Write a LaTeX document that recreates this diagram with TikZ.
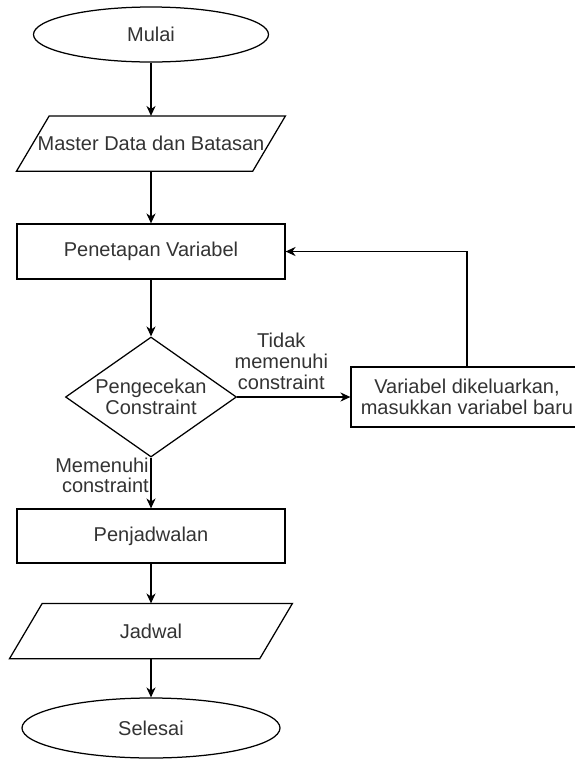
\documentclass[tikz,border=0pt]{standalone}
\usepackage{fontspec}
\setmainfont{Liberation Sans}
\usetikzlibrary{shapes.geometric,arrows.meta,positioning}

\begin{document}
\begin{tikzpicture}[x=0.6pt,y=-0.6pt,line width=0.75pt,font=\fontsize{12}{12.5}\selectfont]
    \tikzstyle{terminal} = [ellipse, draw, inner sep=0pt, minimum width=141pt,
               minimum height=33pt, text=black!80]
    \tikzstyle{io} = [rectangle, inner sep=0pt, minimum height=32.4pt, text=black!80]
    \tikzstyle{block} = [rectangle, draw, minimum width=160.8pt, minimum height=33pt,
               align=center, text=black!80]
    \tikzstyle{decision} = [diamond, draw, aspect=1.425, inner sep=0pt,
               minimum width=102.6pt, minimum height=72pt, align=center, text=black!80]
    \tikzstyle{line} = [draw, -{Stealth[length=6pt,width=5.5pt]}]
    \tikzstyle{cond} = [text=black!80, align=center, inner sep=1pt]

    \useasboundingbox (0,0) rectangle (574,762);

    % Define nodes
    \node [terminal] (mulai) at (151,34.5) {Mulai};
    \node [io, minimum width=141pt] (master) at (151,143.5) {Master Data dan Batasan};
    \node [block] (penetapan) at (151,251.5) {Penetapan Variabel};
    \node [decision] (cek) at (151,397) {Pengecekan\\Constraint};
    \node [block, minimum width=139.2pt, minimum height=36pt] (keluar) at (467,397)
      {Variabel dikeluarkan,\\masukkan variabel baru};
    \node [block, minimum height=32.4pt] (jadwalkan) at (151,536) {Penjadwalan};
    \node [io, minimum width=149.4pt] (jadwal) at (151,631) {Jadwal};
    \node [terminal, minimum width=154.8pt, minimum height=36pt] (selesai) at (151,728) {Selesai};

    % Slanted outline of the data nodes
    \foreach \n in {master,jadwal}
      \draw ([xshift=9.8pt]\n.north west) -- ([xshift=9.8pt]\n.north east)
        -- ([xshift=-9.8pt]\n.south east) -- ([xshift=-9.8pt]\n.south west) -- cycle;

    % Draw edges
    \path [line] (mulai.south) -- (master.north);
    \path [line] (master.south) -- (penetapan.north);
    \path [line] (penetapan.south) -- (cek.north);
    \path [line] (cek.east) -- node[cond, above=3pt, pos=0.39] {Tidak\\memenuhi\\constraint} (keluar.west);
    \path [line] (cek.south) -- node[cond, left, pos=0.35, align=right] {Memenuhi\\constraint} (jadwalkan.north);
    \path [line] (keluar.north) |- (penetapan.east);
    \path [line] (jadwalkan.south) -- (jadwal.north);
    \path [line] (jadwal.south) -- (selesai.north);

  \end{tikzpicture}
\end{document}
